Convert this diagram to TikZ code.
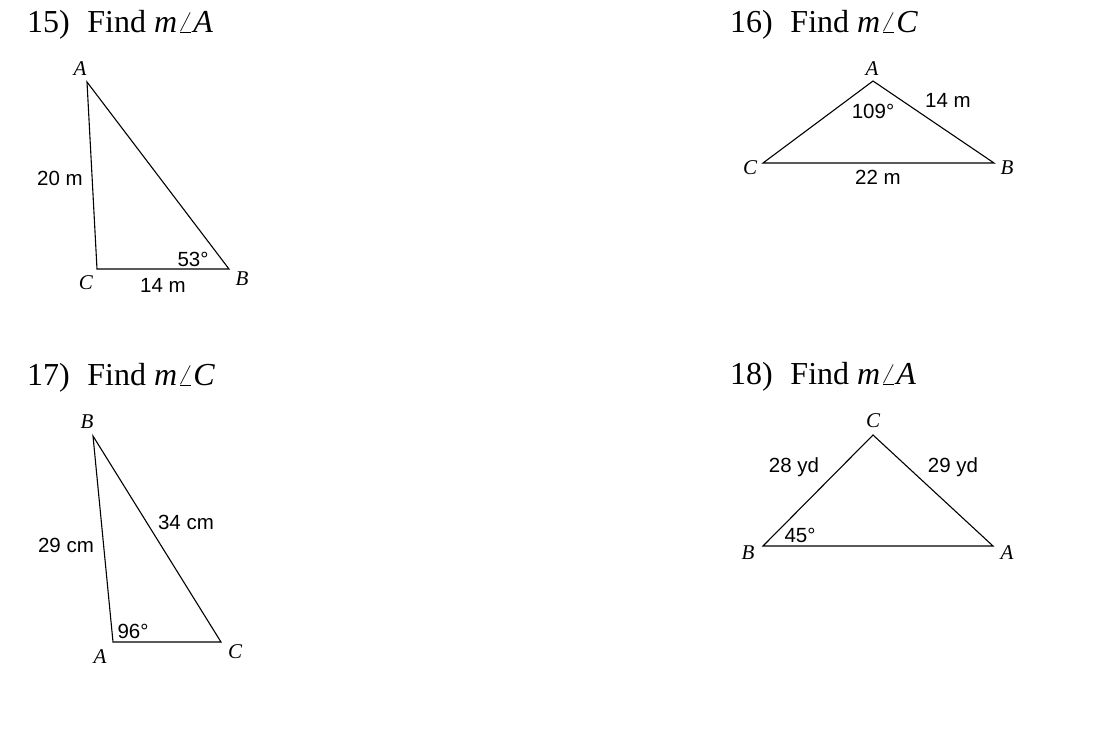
\documentclass[tikz,border=0pt]{standalone}
\usepackage{fontspec}
\setmainfont{Liberation Serif}
\newfontfamily\sidefont{Liberation Sans}
\tikzstyle{title} = [anchor=base west, inner sep=0pt, font=\fontsize{32}{38}\selectfont]
\tikzstyle{vertex} = [inner sep=0pt, font=\fontsize{21}{25}\selectfont\itshape]
\tikzstyle{side} = [inner sep=0pt, font=\sidefont\fontsize{20.5}{24}\selectfont]
\tikzstyle{tri} = [line width=1.1pt, line join=miter]

\begin{document}
\begin{tikzpicture}[x=1pt, y=-1pt]
					\useasboundingbox (0,0) rectangle (1118,732);
					% 15
					\node[title] (t15) at (27,32) {15)\hskip0.55em Find \textit{m}$\angle$\textit{A}};
					\coordinate (a15) at (87,82);
					\coordinate (c15) at (97,269);
					\coordinate (b15) at (229,269);
					\draw[tri] (a15) -- (c15) -- (b15) -- cycle;
					\node[vertex] (la15) at (80,69) {A};
					\node[vertex] (lc15) at (86,283) {C};
					\node[vertex] (lb15) at (242,279) {B};
					\node[side] (ac15) at (60,178) {20 m};
					\node[side] (cb15) at (163,285) {14 m};
					\node[side] (ang15) at (193,259) {53°};
					% 16
					\node[title] (t16) at (730,32) {16)\hskip0.55em Find \textit{m}$\angle$\textit{C}};
					\coordinate (a16) at (873,81);
					\coordinate (c16) at (763,163);
					\coordinate (b16) at (994,163);
					\draw[tri] (a16) -- (c16) -- (b16) -- cycle;
					\node[vertex] (la16) at (872,69) {A};
					\node[vertex] (lc16) at (750,168) {C};
					\node[vertex] (lb16) at (1007,168) {B};
					\node[side] (ab16) at (948,100) {14 m};
					\node[side] (cb16) at (878,177) {22 m};
					\node[side] (ang16) at (873,111) {109°};
					% 17
					\node[title] (t17) at (27,385) {17)\hskip0.55em Find \textit{m}$\angle$\textit{C}};
					\coordinate (b17) at (93,436);
					\coordinate (a17) at (113,642);
					\coordinate (c17) at (221,642);
					\draw[tri] (b17) -- (a17) -- (c17) -- cycle;
					\node[vertex] (lb17) at (87,422) {B};
					\node[vertex] (la17) at (100,657) {A};
					\node[vertex] (lc17) at (235,652) {C};
					\node[side] (ba17) at (66,545) {29 cm};
					\node[side] (bc17) at (186,522) {34 cm};
					\node[side] (ang17) at (133,631) {96°};
					% 18
					\node[title] (t18) at (730,384) {18)\hskip0.55em Find \textit{m}$\angle$\textit{A}};
					\coordinate (c18) at (873,435);
					\coordinate (b18) at (763,546);
					\coordinate (a18) at (993,546);
					\draw[tri] (c18) -- (b18) -- (a18) -- cycle;
					\node[vertex] (lc18) at (873,421) {C};
					\node[vertex] (lb18) at (748,553) {B};
					\node[vertex] (la18) at (1007,553) {A};
					\node[side] (bc18) at (794,467) {28 yd};
					\node[side] (ca18) at (953,467) {29 yd};
					\node[side] (ang18) at (800,535) {45°};
					\end{tikzpicture}
\end{document}
